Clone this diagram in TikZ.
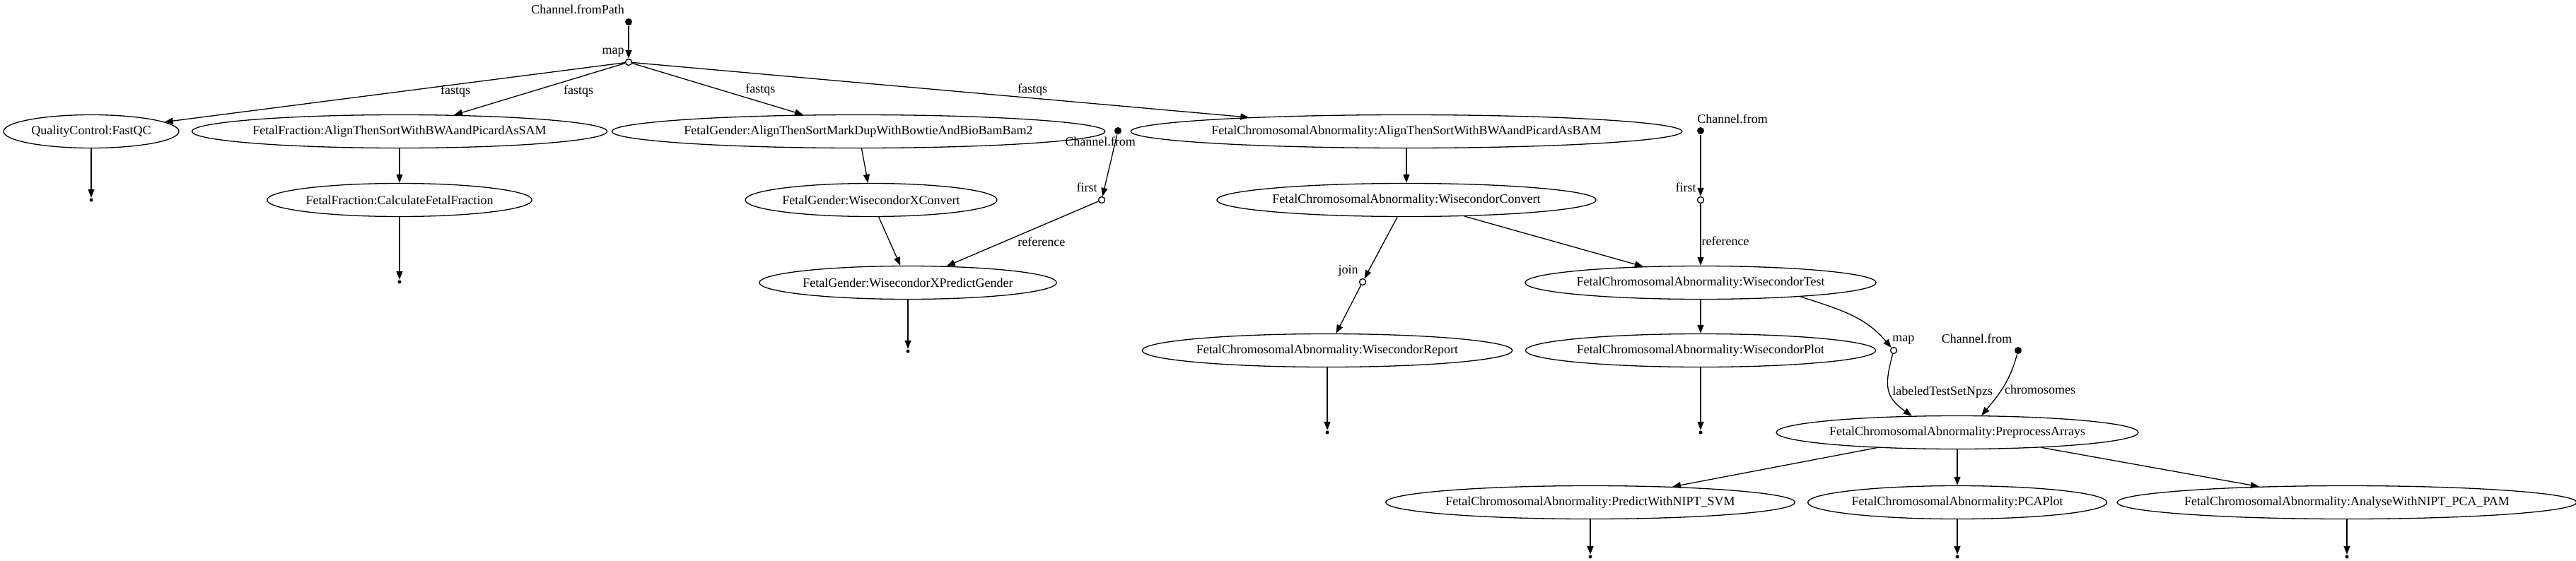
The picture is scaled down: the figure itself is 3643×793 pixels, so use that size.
\documentclass[tikz,border=0pt]{standalone}
\usepackage{fontspec}
\setmainfont{Liberation Serif}
\usetikzlibrary{arrows.meta,positioning,shapes.geometric}
\tikzstyle{flow graph}=[
    x=1pt, y=-1pt, ->, >={Triangle[length=12pt,width=9pt]},
    line width=1.3pt,
    every node/.style={font=\fontsize{18}{21}\selectfont},
]
\tikzstyle{process}=[draw, ellipse, minimum height=47pt, inner sep=0pt]
\tikzstyle{source}=[circle, fill, minimum size=10pt, inner sep=0pt]
\tikzstyle{operator}=[circle, draw, fill=white, minimum size=9pt, inner sep=0pt]
\tikzstyle{sink}=[circle, fill, minimum size=5pt, inner sep=0pt]
\tikzstyle{xlbl}=[inner sep=0pt, text height=13pt, text depth=4pt]
\tikzstyle{elbl}=[inner sep=1pt]
\newcommand{\fca}[1]{FetalChromosomalAbnormality:#1}

\begin{document}
\begin{tikzpicture}[flow graph]
        \useasboundingbox (0,0) rectangle (3643,793);

        % channels and operators
        \node[source] (fromPath) at (889,31) {};
        \node[xlbl, above left=2.5pt and 1.5pt of fromPath] (fromPathLbl) {Channel.fromPath};
        \node[operator] (map1) at (889,88) {};
        \node[xlbl, above left=3pt and 2pt of map1] (map1Lbl) {map};
        \node[source] (fromRefG) at (1581,185) {};
        \node[xlbl, below=2pt of fromRefG, xshift=-25pt] (fromRefGLbl) {Channel.from};
        \node[operator] (first1) at (1558,283) {};
        \node[xlbl, above left=3pt and 2pt of first1] (first1Lbl) {first};
        \node[source] (fromRefA) at (2405,185) {};
        \node[xlbl, above=0pt of fromRefA, xshift=45pt] (fromRefALbl) {Channel.from};
        \node[operator] (first2) at (2405,283) {};
        \node[xlbl, above left=3pt and 2pt of first2] (first2Lbl) {first};
        \node[operator] (join) at (1927,399) {};
        \node[xlbl, above left=3pt and 2pt of join] (joinLbl) {join};
        \node[operator] (map2) at (2678,496) {};
        \node[xlbl, above right=4pt and -6pt of map2] (map2Lbl) {map};
        \node[source] (fromChr) at (2854,496) {};
        \node[xlbl, above left=2pt and 4pt of fromChr] (fromChrLbl) {Channel.from};

        % processes
        \node[process, minimum width=248pt] (fastqc) at (129,186) {QualityControl:FastQC};
        \node[process, minimum width=574pt] (ffAlign) at (565,186) {FetalFraction:AlignThenSortWithBWAandPicardAsSAM};
        \node[process, minimum width=373pt] (ffCalc) at (565,283) {FetalFraction:CalculateFetalFraction};
        \node[process, minimum width=674pt] (fgAlign) at (1214,186) {FetalGender:AlignThenSortMarkDupWithBowtieAndBioBamBam2};
        \node[process, minimum width=356pt] (fgConvert) at (1232,283) {FetalGender:WisecondorXConvert};
        \node[process, minimum width=418pt] (fgPredict) at (1284,400) {FetalGender:WisecondorXPredictGender};
        \node[process, minimum width=758pt] (fcaAlign) at (1989,186) {\fca{AlignThenSortWithBWAandPicardAsBAM}};
        \node[process, minimum width=530pt] (fcaConvert) at (1989,283) {\fca{WisecondorConvert}};
        \node[process, minimum width=493pt] (fcaTest) at (2405,400) {\fca{WisecondorTest}};
        \node[process, minimum width=518pt] (fcaReport) at (1877,496) {\fca{WisecondorReport}};
        \node[process, minimum width=490pt] (fcaPlot) at (2405,496) {\fca{WisecondorPlot}};
        \node[process, minimum width=503pt] (fcaPrep) at (2768,612) {\fca{PreprocessArrays}};
        \node[process, minimum width=569pt] (fcaSvm) at (2249,711) {\fca{PredictWithNIPT\_SVM}};
        \node[process, minimum width=420pt] (fcaPca) at (2768,711) {\fca{PCAPlot}};
        \node[process, minimum width=637pt] (fcaPam) at (3319,711) {\fca{AnalyseWithNIPT\_PCA\_PAM}};

        % outputs
        \node[sink] (outQc) at (129,283) {};
        \node[sink] (outCalc) at (565,399) {};
        \node[sink] (outGender) at (1284,497) {};
        \node[sink] (outReport) at (1877,612) {};
        \node[sink] (outPlot) at (2405,612) {};
        \node[sink] (outSvm) at (2249,788) {};
        \node[sink] (outPca) at (2768,788) {};
        \node[sink] (outPam) at (3319,788) {};

        \path
            (fromPath) edge (map1)
            (map1) edge node[elbl, pos=0.403, anchor=north west, yshift=3.5pt] (fq1) {fastqs} (fastqc)
            (map1) edge node[elbl, pos=0.366, anchor=north west, yshift=-2.5pt] (fq2) {fastqs} (ffAlign)
            (map1) edge node[elbl, pos=0.656, anchor=south west] (fq3) {fastqs} (fgAlign)
            (map1) edge node[elbl, pos=0.623, anchor=south west] (fq4) {fastqs} (fcaAlign)
            (fastqc) edge (outQc)
            (ffAlign) edge (ffCalc)
            (ffCalc) edge (outCalc)
            (fgAlign) edge (fgConvert)
            (fgConvert) edge (fgPredict)
            (fromRefG) edge (first1)
            (first1) edge node[elbl, pos=0.538, anchor=north west] (ref1) {reference} (fgPredict)
            (fgPredict) edge (outGender)
            (fcaAlign) edge (fcaConvert)
            (fcaConvert) edge (join)
            (join) edge (fcaReport)
            (fcaReport) edge (outReport)
            (fcaConvert) edge (fcaTest)
            (fromRefA) edge (first2)
            (first2) edge node[elbl, pos=0.6, anchor=west] (ref2) {reference} (fcaTest)
            (fcaTest) edge (fcaPlot)
            (fcaPlot) edge (outPlot)
            (fcaTest.-8) edge[out=-18, in=130] (map2)
            (map2) edge[out=-105, in=145, looseness=1.3] node[elbl, pos=0.55, anchor=west, xshift=2pt] (npzs) {labeledTestSetNpzs} (fcaPrep.160)
            (fromChr) edge[out=-105, in=50] node[elbl, pos=0.55, anchor=west, xshift=3pt] (chrs) {chromosomes} (fcaPrep.35)
            (fcaPrep) edge (fcaSvm)
            (fcaPrep) edge (fcaPca)
            (fcaPrep) edge (fcaPam)
            (fcaSvm) edge (outSvm)
            (fcaPca) edge (outPca)
            (fcaPam) edge (outPam)
        ;
    \end{tikzpicture}
\end{document}
